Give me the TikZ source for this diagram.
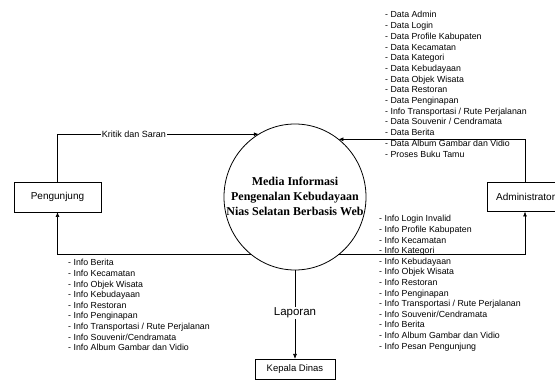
\documentclass[tikz,border=0pt]{standalone}
\usepackage{fontspec}
\setmainfont{Liberation Sans}
\newfontfamily\serifb{Liberation Serif}
\usetikzlibrary{shapes.geometric,arrows.meta}
\begin{document}
\begin{tikzpicture}[x=1pt,y=-1pt,
  box/.style={draw,line width=0.8pt,inner sep=0pt,outer sep=0pt},
  conn/.style={draw,line width=0.7pt},
  arr/.style={conn,-{Latex[length=5pt,width=4pt]}},
  lst/.style={anchor=base west,inner sep=0pt,font=\fontsize{8.8}{10}\selectfont},
  lbl/.style={fill=white,inner sep=1pt}]
\useasboundingbox (0,0) rectangle (555,387);
% boxes
\node[box,minimum width=87pt,minimum height=30pt,font=\fontsize{10}{12}\selectfont] (peng) at (57.5,197) {Pengunjung};
\node[box,minimum width=76pt,minimum height=29pt] (admin) at (525,197) {};
\node[anchor=west,inner sep=0pt,font=\fontsize{10}{12}\selectfont] (admint) at (496,197) {Administrator};
\node[box,minimum width=80pt,minimum height=20pt,font=\fontsize{9.5}{11}\selectfont] (kep) at (295,369) {Kepala Dinas};
% process
\node[ellipse,draw,line width=0.8pt,minimum width=142pt,minimum height=146pt,inner sep=0pt,outer sep=0pt] (proc) at (295,197) {};
\node[align=center,inner sep=0pt,font=\serifb\bfseries\fontsize{12}{15}\selectfont] (proct) at (295,196) {Media Informasi\\Pengenalan Kebudayaan\\Nias Selatan Berbasis Web};
% connectors
\draw[arr] (peng.north) |- node[lbl,pos=0.69,font=\fontsize{9}{11}\selectfont] (kritik) {Kritik dan Saran} (proc.120);
\draw[arr] (admin.north) |- (proc.53);
\draw[arr] (proc.232) -| (peng.south);
\draw[arr] (proc.-53) -| (admin.south);
\draw[arr] (proc.south) -- node[lbl,pos=0.48,font=\fontsize{11.5}{13}\selectfont] (lap) {Laporan} (kep.north);
% lists
\foreach \t [count=\i from 0] in {- Data Admin,- Data Login,- Data Profile Kabupaten,- Data Kecamatan,- Data Kategori,- Data Kebudayaan,- Data Objek Wisata,- Data Restoran,- Data Penginapan,- Info Transportasi / Rute Perjalanan,- Data Souvenir / Cendramata,- Data Berita,- Data Album Gambar dan Vidio,- Proses Buku Tamu}
  \node[lst] (tr\i) at (385,{18+\i*10.7}) {\t};
\foreach \t [count=\i from 0] in {- Info Login Invalid,- Info Profile Kabupaten,- Info Kecamatan,- Info Kategori,- Info Kebudayaan,- Info Objek Wisata,- Info Restoran,- Info Penginapan,- Info Transportasi / Rute Perjalanan,- Info Souvenir/Cendramata,- Info Berita,- Info Album Gambar dan Vidio,- Info Pesan Pengunjung}
  \node[lst] (br\i) at (379,{222+\i*10.6}) {\t};
\foreach \t [count=\i from 0] in {- Info Berita,- Info Kecamatan,- Info Objek Wisata,- Info Kebudayaan,- Info Restoran,- Info Penginapan,- Info Transportasi / Rute Perjalanan,- Info Souvenir/Cendramata,- Info Album Gambar dan Vidio}
  \node[lst] (bl\i) at (68,{266+\i*10.6}) {\t};
\end{tikzpicture}
\end{document}
